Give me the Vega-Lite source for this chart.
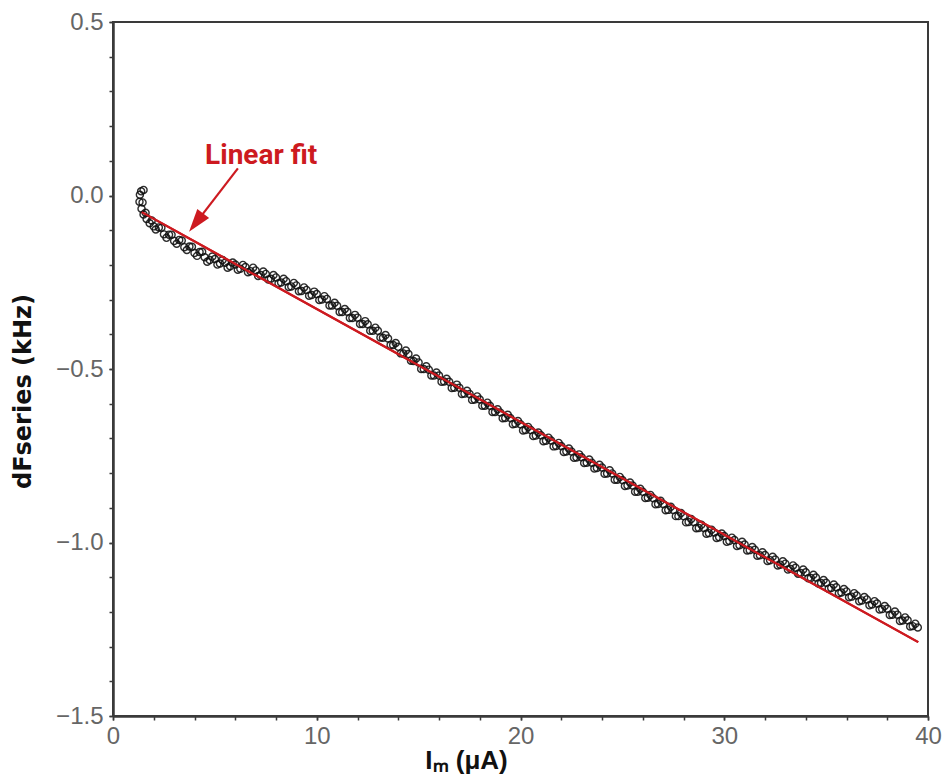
{
  "$schema": "https://vega.github.io/schema/vega-lite/v6.json",
  "width": 815,
  "height": 694,
  "autosize": {"type": "none"},
  "padding": {"left": 113, "top": 22, "right": 17, "bottom": 62},
  "background": "white",
  "config": {
    "view": {"stroke": "#3a3a3a", "strokeWidth": 2},
    "axis": {"grid": false, "domainColor": "#3a3a3a", "domainWidth": 2, "tickColor": "#3a3a3a", "tickWidth": 1.5, "tickSize": 4, "labelFont": "Liberation Sans", "labelFontSize": 24, "labelColor": "#666666", "labelOverlap": false, "labelFlush": false, "titleFont": "DejaVu Sans", "titleFontWeight": "bold", "titleColor": "#111111"}
  },
  "resolve": {"axis": {"x": "independent", "y": "independent"}},
  "datasets": {
    "pts": [
      {"x":1.32,"y":0.002},{"x":1.38,"y":0.012},{"x":1.5,"y":0.016},{"x":1.3,"y":-0.018},{"x":1.4,"y":-0.038},{"x":1.5,"y":-0.055},{"x":1.65,"y":-0.068},{"x":1.8,"y":-0.08},{"x":2.0,"y":-0.089},{"x":1.45,"y":-0.02},{"x":1.6,"y":-0.05},{"x":1.9,"y":-0.072},{"x":2.1,"y":-0.098},
      {"x":2.25,"y":-0.092},{"x":2.5,"y":-0.112},{"x":2.75,"y":-0.113},{"x":3.0,"y":-0.131},{"x":3.25,"y":-0.128},{"x":3.5,"y":-0.149},{"x":3.75,"y":-0.147},{"x":4.0,"y":-0.166},{"x":4.25,"y":-0.163},{"x":4.5,"y":-0.178},{"x":4.75,"y":-0.186},
      {"x":5.0,"y":-0.183},{"x":5.25,"y":-0.196},{"x":5.5,"y":-0.194},{"x":5.75,"y":-0.204},{"x":6.0,"y":-0.199},{"x":6.25,"y":-0.211},{"x":6.5,"y":-0.206},{"x":6.75,"y":-0.218},{"x":7.0,"y":-0.216},{"x":7.25,"y":-0.229},
      {"x":7.5,"y":-0.226},{"x":7.75,"y":-0.24},{"x":8.0,"y":-0.236},{"x":8.25,"y":-0.251},{"x":8.5,"y":-0.247},{"x":8.75,"y":-0.262},{"x":9.0,"y":-0.259},{"x":9.25,"y":-0.275},{"x":9.5,"y":-0.272},{"x":9.75,"y":-0.287},
      {"x":10.0,"y":-0.284},{"x":10.25,"y":-0.3},{"x":10.5,"y":-0.298},{"x":10.75,"y":-0.317},{"x":11.0,"y":-0.318},{"x":11.25,"y":-0.336},{"x":11.5,"y":-0.335},{"x":11.75,"y":-0.353},{"x":12.0,"y":-0.352},{"x":12.25,"y":-0.37},
      {"x":12.5,"y":-0.371},{"x":12.75,"y":-0.39},{"x":13.0,"y":-0.39},{"x":13.25,"y":-0.41},{"x":13.5,"y":-0.412},{"x":13.75,"y":-0.431},{"x":14.0,"y":-0.436},{"x":14.25,"y":-0.455},{"x":14.5,"y":-0.457},{"x":14.75,"y":-0.477},
      {"x":15.0,"y":-0.481},{"x":15.25,"y":-0.5},{"x":15.5,"y":-0.502},{"x":15.75,"y":-0.519},{"x":16.0,"y":-0.519},{"x":16.25,"y":-0.536},{"x":16.5,"y":-0.537},{"x":16.75,"y":-0.554},{"x":17.0,"y":-0.554},{"x":17.25,"y":-0.571},
      {"x":17.5,"y":-0.572},{"x":17.75,"y":-0.588},{"x":18.0,"y":-0.588},{"x":18.25,"y":-0.606},{"x":18.5,"y":-0.606},{"x":18.75,"y":-0.624},{"x":19.0,"y":-0.625},{"x":19.25,"y":-0.641},{"x":19.5,"y":-0.641},{"x":19.75,"y":-0.658},
      {"x":20.0,"y":-0.659},{"x":20.25,"y":-0.676},{"x":20.5,"y":-0.676},{"x":20.75,"y":-0.692},{"x":21.0,"y":-0.691},{"x":21.25,"y":-0.707},{"x":21.5,"y":-0.706},{"x":21.75,"y":-0.722},{"x":22.0,"y":-0.722},{"x":22.25,"y":-0.738},
      {"x":22.5,"y":-0.738},{"x":22.75,"y":-0.755},{"x":23.0,"y":-0.754},{"x":23.25,"y":-0.77},{"x":23.5,"y":-0.77},{"x":23.75,"y":-0.785},{"x":24.0,"y":-0.784},{"x":24.25,"y":-0.801},{"x":24.5,"y":-0.801},{"x":24.75,"y":-0.819},
      {"x":25.0,"y":-0.82},{"x":25.25,"y":-0.836},{"x":25.5,"y":-0.836},{"x":25.75,"y":-0.854},{"x":26.0,"y":-0.854},{"x":26.25,"y":-0.871},{"x":26.5,"y":-0.872},{"x":26.75,"y":-0.889},{"x":27.0,"y":-0.889},{"x":27.25,"y":-0.906},
      {"x":27.5,"y":-0.906},{"x":27.75,"y":-0.924},{"x":28.0,"y":-0.924},{"x":28.25,"y":-0.941},{"x":28.5,"y":-0.941},{"x":28.75,"y":-0.958},{"x":29.0,"y":-0.958},{"x":29.25,"y":-0.973},{"x":29.5,"y":-0.971},{"x":29.75,"y":-0.985},
      {"x":30.0,"y":-0.981},{"x":30.25,"y":-0.996},{"x":30.5,"y":-0.993},{"x":30.75,"y":-1.008},{"x":31.0,"y":-1.006},{"x":31.25,"y":-1.022},{"x":31.5,"y":-1.021},{"x":31.75,"y":-1.037},{"x":32.0,"y":-1.036},{"x":32.25,"y":-1.051},
      {"x":32.5,"y":-1.049},{"x":32.75,"y":-1.064},{"x":33.0,"y":-1.061},{"x":33.25,"y":-1.076},{"x":33.5,"y":-1.073},{"x":33.75,"y":-1.088},{"x":34.0,"y":-1.086},{"x":34.25,"y":-1.102},{"x":34.5,"y":-1.101},{"x":34.75,"y":-1.117},
      {"x":35.0,"y":-1.116},{"x":35.25,"y":-1.131},{"x":35.5,"y":-1.129},{"x":35.75,"y":-1.144},{"x":36.0,"y":-1.141},{"x":36.25,"y":-1.156},{"x":36.5,"y":-1.153},{"x":36.75,"y":-1.167},{"x":37.0,"y":-1.164},{"x":37.25,"y":-1.179},
      {"x":37.5,"y":-1.176},{"x":37.75,"y":-1.192},{"x":38.0,"y":-1.191},{"x":38.25,"y":-1.208},{"x":38.5,"y":-1.208},{"x":38.75,"y":-1.225},{"x":39.0,"y":-1.224},{"x":39.25,"y":-1.241},{"x":39.5,"y":-1.245},
      {"x":2.375,"y":-0.093},{"x":2.625,"y":-0.122},{"x":2.875,"y":-0.113},{"x":3.125,"y":-0.139},{"x":3.375,"y":-0.13},{"x":3.625,"y":-0.157},{"x":3.875,"y":-0.148},{"x":4.125,"y":-0.174},{"x":4.375,"y":-0.162},{"x":4.625,"y":-0.191},
      {"x":4.875,"y":-0.176},{"x":5.125,"y":-0.199},{"x":5.375,"y":-0.186},{"x":5.625,"y":-0.208},{"x":5.875,"y":-0.193},{"x":6.125,"y":-0.214},{"x":6.375,"y":-0.2},{"x":6.625,"y":-0.221},{"x":6.875,"y":-0.208},{"x":7.125,"y":-0.232},
      {"x":7.375,"y":-0.219},{"x":7.625,"y":-0.242},{"x":7.875,"y":-0.229},{"x":8.125,"y":-0.253},{"x":8.375,"y":-0.24},{"x":8.625,"y":-0.264},{"x":8.875,"y":-0.252},{"x":9.125,"y":-0.276},{"x":9.375,"y":-0.265},{"x":9.625,"y":-0.289},
      {"x":9.875,"y":-0.277},{"x":10.125,"y":-0.301},{"x":10.375,"y":-0.29},{"x":10.625,"y":-0.317},{"x":10.875,"y":-0.309},{"x":11.125,"y":-0.336},{"x":11.375,"y":-0.327},{"x":11.625,"y":-0.353},{"x":11.875,"y":-0.344},{"x":12.125,"y":-0.37},
      {"x":12.375,"y":-0.362},{"x":12.625,"y":-0.39},{"x":12.875,"y":-0.381},{"x":13.125,"y":-0.409},{"x":13.375,"y":-0.402},{"x":13.625,"y":-0.431},{"x":13.875,"y":-0.425},{"x":14.125,"y":-0.455},{"x":14.375,"y":-0.447},{"x":14.625,"y":-0.476},
      {"x":14.875,"y":-0.47},{"x":15.125,"y":-0.5},{"x":15.375,"y":-0.492},{"x":15.625,"y":-0.519},{"x":15.875,"y":-0.51},{"x":16.125,"y":-0.537},{"x":16.375,"y":-0.528},{"x":16.625,"y":-0.555},{"x":16.875,"y":-0.545},{"x":17.125,"y":-0.572},
      {"x":17.375,"y":-0.563},{"x":17.625,"y":-0.589},{"x":17.875,"y":-0.579},{"x":18.125,"y":-0.606},{"x":18.375,"y":-0.597},{"x":18.625,"y":-0.624},{"x":18.875,"y":-0.616},{"x":19.125,"y":-0.642},{"x":19.375,"y":-0.632},{"x":19.625,"y":-0.659},
      {"x":19.875,"y":-0.65},{"x":20.125,"y":-0.677},{"x":20.375,"y":-0.667},{"x":20.625,"y":-0.693},{"x":20.875,"y":-0.683},{"x":21.125,"y":-0.708},{"x":21.375,"y":-0.698},{"x":21.625,"y":-0.723},{"x":21.875,"y":-0.713},{"x":22.125,"y":-0.739},
      {"x":22.375,"y":-0.729},{"x":22.625,"y":-0.756},{"x":22.875,"y":-0.746},{"x":23.125,"y":-0.771},{"x":23.375,"y":-0.761},{"x":23.625,"y":-0.787},{"x":23.875,"y":-0.776},{"x":24.125,"y":-0.802},{"x":24.375,"y":-0.792},{"x":24.625,"y":-0.819},
      {"x":24.875,"y":-0.811},{"x":25.125,"y":-0.837},{"x":25.375,"y":-0.827},{"x":25.625,"y":-0.854},{"x":25.875,"y":-0.845},{"x":26.125,"y":-0.872},{"x":26.375,"y":-0.863},{"x":26.625,"y":-0.89},{"x":26.875,"y":-0.88},{"x":27.125,"y":-0.907},
      {"x":27.375,"y":-0.897},{"x":27.625,"y":-0.924},{"x":27.875,"y":-0.915},{"x":28.125,"y":-0.942},{"x":28.375,"y":-0.932},{"x":28.625,"y":-0.959},{"x":28.875,"y":-0.949},{"x":29.125,"y":-0.975},{"x":29.375,"y":-0.963},{"x":29.625,"y":-0.987},
      {"x":29.875,"y":-0.974},{"x":30.125,"y":-0.998},{"x":30.375,"y":-0.986},{"x":30.625,"y":-1.01},{"x":30.875,"y":-0.998},{"x":31.125,"y":-1.023},{"x":31.375,"y":-1.013},{"x":31.625,"y":-1.038},{"x":31.875,"y":-1.028},{"x":32.125,"y":-1.053},
      {"x":32.375,"y":-1.041},{"x":32.625,"y":-1.066},{"x":32.875,"y":-1.054},{"x":33.125,"y":-1.078},{"x":33.375,"y":-1.066},{"x":33.625,"y":-1.09},{"x":33.875,"y":-1.078},{"x":34.125,"y":-1.103},{"x":34.375,"y":-1.093},{"x":34.625,"y":-1.118},
      {"x":34.875,"y":-1.108},{"x":35.125,"y":-1.133},{"x":35.375,"y":-1.121},{"x":35.625,"y":-1.146},{"x":35.875,"y":-1.134},{"x":36.125,"y":-1.158},{"x":36.375,"y":-1.146},{"x":36.625,"y":-1.169},{"x":36.875,"y":-1.157},{"x":37.125,"y":-1.181},
      {"x":37.375,"y":-1.169},{"x":37.625,"y":-1.193},{"x":37.875,"y":-1.183},{"x":38.125,"y":-1.209},{"x":38.375,"y":-1.199},{"x":38.625,"y":-1.226},{"x":38.875,"y":-1.216},{"x":39.125,"y":-1.242},{"x":39.375,"y":-1.234}
    ],
    "fit": [{"x":1.41,"y":-0.048},{"x":39.52,"y":-1.287}],
    "arrow": [{"x":6.13,"y":0.078,"x2":4.08,"y2":-0.078}],
    "label": [{"x":4.52,"y":0.092,"text":"Linear fit"}]
  },
  "layer": [
    {
      "data": {"name": "fit"},
      "mark": {"type": "line", "color": "#cd1a20", "strokeWidth": 2.2},
      "encoding": {
        "x": {"field": "x", "type": "quantitative", "scale": {"domain": [0, 40], "nice": false, "zero": false},
          "axis": {"orient": "bottom", "values": [0,2,4,6,8,10,12,14,16,18,20,22,24,26,28,30,32,34,36,38,40], "labels": false, "title": null, "domain": true}},
        "y": {"field": "y", "type": "quantitative", "scale": {"domain": [-1.5, 0.5], "nice": false, "zero": false},
          "axis": {"orient": "left", "values": [-1.5,-1.4,-1.3,-1.2,-1.1,-1.0,-0.9,-0.8,-0.7,-0.6,-0.5,-0.4,-0.3,-0.2,-0.1,0,0.1,0.2,0.3,0.4,0.5], "labels": false, "title": null, "domain": true}}
      }
    },
    {
      "data": {"name": "pts"},
      "mark": {"type": "point", "shape": "circle", "filled": false, "stroke": "#111111", "strokeWidth": 1.4, "opacity": 0.88, "size": 50},
      "encoding": {
        "x": {"field": "x", "type": "quantitative", "scale": {"domain": [0, 40], "nice": false, "zero": false},
          "axis": {"orient": "bottom", "values": [0,10,20,30,40], "format": "d", "labelPadding": 4, "title": "Iₘ (μA)", "titleFont": "Liberation Sans", "titleFontSize": 26, "titleX": 353, "titleY": 52, "titleBaseline": "alphabetic", "titleAnchor": "middle"}},
        "y": {"field": "y", "type": "quantitative", "scale": {"domain": [-1.5, 0.5], "nice": false, "zero": false},
          "axis": {"orient": "left", "values": [-1.5,-1.0,-0.5,0,0.5], "format": ".1f", "labelPadding": 6, "title": "dFseries (kHz)", "titleFontSize": 24, "titleX": -78, "titleY": 369, "titleAnchor": "middle"}}
      }
    },
    {
      "data": {"name": "fit"},
      "mark": {"type": "line", "color": "#cd1a20", "strokeWidth": 2.2},
      "encoding": {"x": {"field": "x", "type": "quantitative", "axis": null}, "y": {"field": "y", "type": "quantitative", "axis": null}}
    },
    {
      "data": {"name": "arrow"},
      "mark": {"type": "rule", "color": "#cd1a20", "strokeWidth": 2.2},
      "encoding": {"x": {"field": "x", "type": "quantitative", "axis": null}, "y": {"field": "y", "type": "quantitative", "axis": null}, "x2": {"field": "x2"}, "y2": {"field": "y2"}}
    },
    {
      "data": {"name": "arrow"},
      "mark": {"type": "point", "shape": "M0,-1L0.65,1L-0.65,1Z", "filled": true, "color": "#cd1a20", "opacity": 1, "size": 529, "angle": 218},
      "encoding": {"x": {"field": "x2", "type": "quantitative", "axis": null}, "y": {"field": "y2", "type": "quantitative", "axis": null}}
    },
    {
      "data": {"name": "label"},
      "mark": {"type": "text", "font": "Roboto", "fontWeight": "bold", "fontSize": 28, "color": "#cd1a20", "align": "left", "baseline": "alphabetic"},
      "encoding": {"x": {"field": "x", "type": "quantitative", "axis": null}, "y": {"field": "y", "type": "quantitative", "axis": null}, "text": {"field": "text"}}
    }
  ]
}
